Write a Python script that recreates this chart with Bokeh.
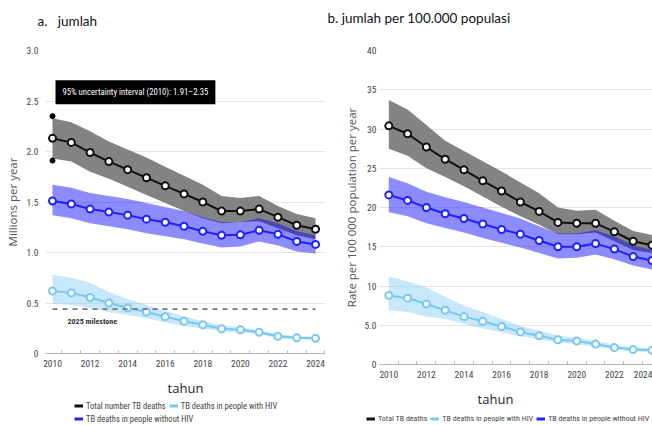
from bokeh.plotting import figure
from bokeh.layouts import row, column
from bokeh.models import Legend, LegendItem, Label, FixedTicker, Range1d, Plot
from bokeh.embed import file_html
from bokeh.resources import INLINE

# ---------------- data ----------------
years = list(range(2010, 2025))
tick_years = [2010, 2012, 2014, 2016, 2018, 2020, 2022, 2024]

# Panel a: millions per year
total_m = [2.13, 2.09, 1.99, 1.90, 1.82, 1.74, 1.66, 1.58, 1.50, 1.41, 1.41, 1.43, 1.35, 1.27, 1.23]
total_m_hi = [2.33, 2.29, 2.20, 2.10, 2.02, 1.94, 1.85, 1.76, 1.67, 1.56, 1.54, 1.56, 1.46, 1.38, 1.34]
total_m_lo = [1.93, 1.90, 1.80, 1.73, 1.65, 1.57, 1.49, 1.41, 1.34, 1.29, 1.30, 1.31, 1.24, 1.17, 1.13]
nohiv_m = [1.51, 1.48, 1.43, 1.40, 1.37, 1.33, 1.30, 1.26, 1.21, 1.17, 1.175, 1.22, 1.18, 1.11, 1.08]
nohiv_m_hi = [1.67, 1.64, 1.59, 1.56, 1.53, 1.49, 1.45, 1.41, 1.35, 1.30, 1.30, 1.34, 1.29, 1.21, 1.17]
nohiv_m_lo = [1.37, 1.34, 1.29, 1.26, 1.23, 1.19, 1.16, 1.13, 1.09, 1.05, 1.06, 1.11, 1.07, 1.01, 0.99]
hiv_m = [0.62, 0.60, 0.555, 0.50, 0.45, 0.41, 0.365, 0.32, 0.285, 0.245, 0.235, 0.21, 0.17, 0.155, 0.15]
hiv_m_hi = [0.78, 0.75, 0.70, 0.61, 0.54, 0.48, 0.42, 0.37, 0.32, 0.28, 0.26, 0.23, 0.19, 0.17, 0.165]
hiv_m_lo = [0.49, 0.48, 0.45, 0.41, 0.38, 0.35, 0.31, 0.27, 0.25, 0.22, 0.21, 0.19, 0.15, 0.14, 0.135]
milestone_m = 0.44
ui_2010 = [1.91, 2.35]
yticks_a = [0, 0.5, 1.0, 1.5, 2.0, 2.5, 3.0]
ylabels_a = ["0", "0.5", "1.0", "1.5", "2.0", "2.5", "3.0"]

# Panel b: rate per 100 000 population per year
total_r = [30.4, 29.4, 27.7, 26.15, 24.8, 23.4, 22.1, 20.7, 19.5, 18.1, 18.0, 18.0, 16.9, 15.7, 15.2]
total_r_hi = [33.7, 32.5, 30.5, 28.5, 27.2, 25.9, 24.6, 23.2, 21.8, 20.0, 19.6, 19.7, 18.3, 17.0, 16.5]
total_r_lo = [27.5, 26.6, 25.0, 23.9, 22.7, 21.4, 20.1, 18.9, 17.8, 16.6, 16.6, 16.8, 15.7, 14.6, 14.2]
nohiv_r = [21.6, 20.9, 20.0, 19.2, 18.6, 17.9, 17.2, 16.6, 15.8, 15.0, 15.0, 15.4, 14.7, 13.75, 13.25]
nohiv_r_hi = [23.9, 23.1, 22.0, 21.3, 20.7, 20.0, 19.3, 18.6, 17.6, 16.7, 16.7, 17.1, 16.3, 15.2, 14.6]
nohiv_r_lo = [19.4, 18.9, 18.0, 17.4, 16.8, 16.1, 15.5, 14.9, 14.2, 13.5, 13.6, 14.0, 13.4, 12.6, 12.1]
hiv_r = [8.8, 8.45, 7.7, 6.9, 6.1, 5.5, 4.85, 4.15, 3.65, 3.15, 3.0, 2.6, 2.15, 1.9, 1.8]
hiv_r_hi = [11.2, 10.6, 9.8, 8.6, 7.5, 6.7, 5.8, 4.9, 4.3, 3.7, 3.4, 3.0, 2.5, 2.2, 2.1]
hiv_r_lo = [6.9, 6.7, 6.1, 5.8, 5.2, 4.6, 4.1, 3.6, 3.2, 2.8, 2.6, 2.3, 1.9, 1.7, 1.6]
yticks_b = [0, 5, 10, 15, 20, 25, 30, 35, 40]
ylabels_b = ["0", "5.0", "10", "15", "20", "25", "30", "35", "40"]

title_a = "a.\u00a0\u00a0\u00a0jumlah"
title_b = "b. jumlah per 100.000 populasi"
x_title = "tahun"

# ---------------- style ----------------
NARROW = "Roboto Condensed, DejaVu Sans Condensed, sans-serif"
C_TOTAL = "#111111"
C_TOTAL_BAND = "#838383"
C_NOHIV = "#2020ff"
C_HIV = "#78c8f2"
C_HIV_BAND = "#8fd0f7"
HAS_FA = "frame_align" in Plot.properties()
TITLE_H = 34


def strip_fig(width, height):
    f = figure(width=width, height=height, output_backend="svg", toolbar_location=None,
               x_axis_location=None, y_axis_location=None,
               x_range=Range1d(0, width), y_range=Range1d(0, height),
               min_border_left=0, min_border_right=0, min_border_top=0, min_border_bottom=0)
    if HAS_FA:
        f.frame_align = False
    f.outline_line_color = None
    f.xgrid.visible = False
    f.ygrid.visible = False
    return f


def title_fig(width, x, y_from_top, text):
    f = strip_fig(width, TITLE_H)
    f.add_layout(Label(x=x, y=TITLE_H - y_from_top, text=text, text_font="Lato",
                       text_font_size="13.5px", text_color="#111111",
                       text_baseline="middle"))
    return f


def make_panel(width, height, borders, xr, yr, yticks, ylabels, ylabel, xlabel, series,
               ylab_standoff, ytitle_standoff):
    p = figure(width=width, height=height, output_backend="svg", toolbar_location=None,
               x_range=Range1d(*xr), y_range=Range1d(*yr),
               min_border_left=borders[0], min_border_right=borders[1],
               min_border_top=borders[2], min_border_bottom=borders[3])
    if HAS_FA:
        p.frame_align = False
    p.outline_line_color = None
    p.background_fill_color = "white"

    (tot, tot_lo, tot_hi), (nh, nh_lo, nh_hi), (hv, hv_lo, hv_hi) = series
    p.varea(x=years, y1=tot_lo, y2=tot_hi, fill_color=C_TOTAL_BAND, fill_alpha=1.0)
    p.varea(x=years, y1=nh_lo, y2=nh_hi, fill_color="#0000ff", fill_alpha=0.45)
    p.varea(x=years, y1=hv_lo, y2=hv_hi, fill_color=C_HIV_BAND, fill_alpha=0.5)

    p.line(years, tot, line_color=C_TOTAL, line_width=2)
    p.scatter(years, tot, size=7, fill_color="white", line_color=C_TOTAL, line_width=2)
    p.line(years, nh, line_color=C_NOHIV, line_width=2)
    p.scatter(years, nh, size=7, fill_color="white", line_color=C_NOHIV, line_width=2)
    p.line(years, hv, line_color=C_HIV, line_width=2)
    p.scatter(years, hv, size=7, fill_color="white", line_color=C_HIV, line_width=2)

    xa = p.xaxis[0]
    xa.ticker = FixedTicker(ticks=tick_years,
                            minor_ticks=[y + 0.5 for y in range(2009, 2025)])
    xa.major_tick_out = 0
    xa.major_tick_in = 0
    xa.minor_tick_in = 3
    xa.minor_tick_out = 0
    xa.minor_tick_line_color = "#b5b5b5"
    xa.axis_line_color = "#b5b5b5"
    xa.major_label_text_font = NARROW
    xa.major_label_text_font_size = "9.5px"
    xa.major_label_text_color = "#444444"
    xa.major_label_standoff = 6
    if xlabel:
        xa.axis_label = xlabel
        xa.axis_label_text_font = "Open Sans"
        xa.axis_label_text_font_size = "13px"
        xa.axis_label_text_font_style = "normal"
        xa.axis_label_text_color = "#222222"
        xa.axis_label_standoff = 9

    ya = p.yaxis[0]
    ya.ticker = FixedTicker(ticks=yticks)
    ya.major_label_overrides = {t: l for t, l in zip(yticks, ylabels)}
    ya.axis_line_color = None
    ya.major_tick_line_color = None
    ya.minor_tick_line_color = None
    ya.major_tick_out = 0
    ya.major_tick_in = 0
    ya.minor_tick_out = 0
    ya.minor_tick_in = 0
    ya.major_label_text_font = NARROW
    ya.major_label_text_font_size = "9.5px"
    ya.major_label_text_color = "#444444"
    ya.major_label_standoff = ylab_standoff
    ya.axis_label = ylabel
    ya.axis_label_text_font = "Open Sans"
    ya.axis_label_text_font_size = "11.5px"
    ya.axis_label_text_font_style = "normal"
    ya.axis_label_text_color = "#555555"
    ya.axis_label_standoff = ytitle_standoff

    p.xgrid.grid_line_color = None
    p.ygrid.grid_line_color = "#e3e3e3"
    p.ygrid.ticker = FixedTicker(ticks=yticks)
    return p


def legend_fig(width, height, rows, font_size):
    f = strip_fig(width, height)
    for (x, y, entries, spacing) in rows:
        items = []
        for label, color, values in entries:
            # series lies outside this strip's ranges: only its legend glyph shows
            r = f.line(years, values, line_color=color, line_width=3)
            items.append(LegendItem(label=label, renderers=[r]))
        leg = Legend(items=items, location=(x, y), orientation="horizontal")
        leg.margin = 0
        leg.padding = 0
        leg.spacing = spacing
        leg.border_line_color = None
        leg.background_fill_alpha = 0
        leg.label_text_font = NARROW
        leg.label_text_font_size = font_size
        leg.label_text_color = "#444444"
        leg.label_standoff = 3
        leg.glyph_width = 9
        leg.glyph_height = 11
        leg.label_height = 11
        f.add_layout(leg)
    return f


# ---------------- panel a ----------------
ta = title_fig(325, 37, 20, title_a)
pa = make_panel(
    325, 399 - TITLE_H, (45, 0, 50 - TITLE_H, 46), (2009.627, 2024.53), (0, 3.0),
    yticks_a, ylabels_a, "Millions per year", x_title,
    [(total_m, total_m_lo, total_m_hi), (nohiv_m, nohiv_m_lo, nohiv_m_hi),
     (hiv_m, hiv_m_lo, hiv_m_hi)], 7, 4)

pa.line([years[0], years[-1]], [milestone_m, milestone_m], line_color="#777777",
        line_width=1.8, line_dash="5 5")
pa.add_layout(Label(x=years[0], y=milestone_m, text="2025 milestone", x_offset=15, y_offset=-12,
                    text_font=NARROW, text_font_size="8px", text_font_style="bold",
                    text_color="#333333", text_baseline="middle"))
pa.scatter([years[0], years[0]], ui_2010, size=5, fill_color="black", line_color="black")
pa.add_layout(Label(x=years[0], y=ui_2010[1], y_offset=24, x_offset=3,
                    text="95% uncertainty interval (2010): 1.91\u20132.35",
                    text_font=NARROW, text_font_size="8.7px", text_color="white",
                    text_baseline="middle", background_fill_color="black",
                    padding=7))

xa_leg = 74 if HAS_FA else 29
la = legend_fig(325, 26, [
    (xa_leg, 14, [("Total number TB deaths", C_TOTAL, total_m),
                  ("TB deaths in people with HIV", C_HIV, hiv_m)], 3),
    (xa_leg, 1, [("TB deaths in people without HIV", C_NOHIV, nohiv_m)], 3),
], "8.5px")

# ---------------- panel b ----------------
B_STRIP_H = 39
tb = title_fig(327, 2, 17, title_b)
pb = make_panel(
    327, 425 - TITLE_H - B_STRIP_H, (54, 0, 50 - TITLE_H, 22), (2009.505, 2024.03), (0, 40),
    yticks_b, ylabels_b, "Rate per 100 000 population per year", None,
    [(total_r, total_r_lo, total_r_hi), (nohiv_r, nohiv_r_lo, nohiv_r_hi),
     (hiv_r, hiv_r_lo, hiv_r_hi)], 3, 3)

xb_leg = 41 if HAS_FA else 0
lb = legend_fig(327, B_STRIP_H, [
    (xb_leg, 1, [("Total TB deaths", C_TOTAL, total_r),
                 ("TB deaths in people with HIV", C_HIV, hiv_r),
                 ("TB deaths in people without HIV", C_NOHIV, nohiv_r)], 3),
], "8px")
lb.add_layout(Label(x=170, y=B_STRIP_H - 12, text=x_title, text_font="Open Sans",
                    text_font_size="13px", text_color="#222222",
                    text_align="center", text_baseline="middle"))

layout = row(column(ta, pa, la), column(tb, pb, lb))
open("out.html", "w").write(file_html(layout, INLINE))
